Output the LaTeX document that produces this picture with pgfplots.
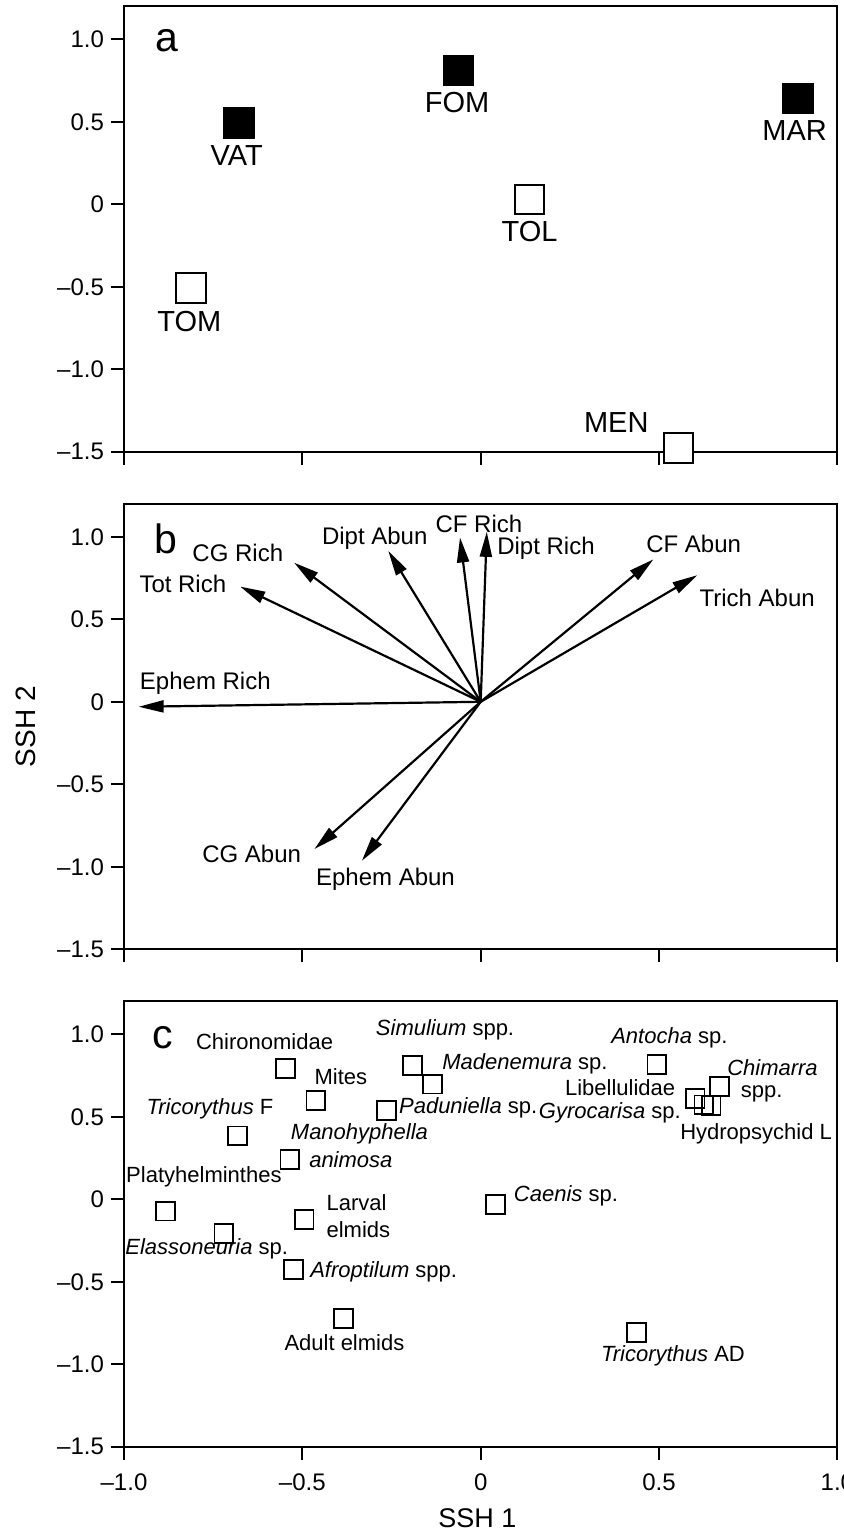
\documentclass[border=0pt]{standalone}
\usepackage{fontspec}
\setmainfont{Liberation Sans}
\usepackage{pgfplots}
\pgfplotsset{compat=1.18}
\usetikzlibrary{arrows.meta}

\pgfplotsset{
  panel/.style={
    x=178.35pt, y=82.5pt,
    xmin=-1, xmax=1, ymin=-1.5, ymax=1.2,
    anchor=south west,
    clip=false,
    axis line style={line width=1pt},
    tick style={line width=1pt, black},
    major tick length=6.5pt,
    tick align=outside,
    tick pos=left,
    xtick={-1,-0.5,0,0.5,1},
    ytick={-1.5,-1,-0.5,0,0.5,1},
    yticklabels={\textendash1.5,\textendash1.0,\textendash0.5,0,0.5,1.0},
    tick label style={font=\fontsize{12}{14}\selectfont},
    xticklabel style={yshift=-3.5pt},
  },
}
\tikzset{
  lbla/.style={font=\fontsize{14.5}{16}\selectfont, inner sep=0pt},
  lblb/.style={font=\fontsize{12}{14}\selectfont, inner sep=0pt},
  lblc/.style={font=\fontsize{11}{13}\selectfont, inner sep=0pt},
  letter/.style={font=\fontsize{20.5}{22}\selectfont, inner sep=0pt},
  arr/.style={line width=1.1pt, -{Triangle[length=12.5pt,width=6pt]}},
}

\begin{document}
\begin{tikzpicture}
\useasboundingbox (-62pt,-540.1pt) rectangle (359.5pt,225.9pt);

% ---------------- panel a
\begin{axis}[panel, at={(0pt,0pt)}, xticklabels={{},{},{},{},{}}]
\addplot[only marks, mark=square*, mark size=7.4pt,
  mark options={fill=black, draw=black, line width=1pt}]
  coordinates {(-0.677,0.493) (-0.062,0.81) (0.889,0.641)};
\addplot[only marks, mark=square*, mark size=7.4pt,
  mark options={fill=white, draw=black, line width=1pt}]
  coordinates {(0.137,0.03) (-0.812,-0.508) (0.554,-1.476)};
\node[letter] at (axis cs:-0.879,0.99) {a};
\node[lbla] at (axis cs:-0.684,0.297) {VAT};
\node[lbla] at (axis cs:-0.066,0.614) {FOM};
\node[lbla] at (axis cs:0.88,0.446) {MAR};
\node[lbla] at (axis cs:0.137,-0.165) {TOL};
\node[lbla] at (axis cs:-0.817,-0.709) {TOM};
\node[lbla] at (axis cs:0.38,-1.32) {MEN};
\end{axis}

% ---------------- panel b
\begin{axis}[panel, at={(0pt,-248.75pt)}, xticklabels={{},{},{},{},{}},
  ylabel={SSH 2},
  ylabel style={at={(axis description cs:-0.1374,0.5)}, anchor=center,
    font=\fontsize{14}{16}\selectfont}]
\addplot[arr] coordinates {(0,0) (-0.959,-0.03)};
\addplot[arr] coordinates {(0,0) (-0.674,0.698)};
\addplot[arr] coordinates {(0,0) (-0.523,0.843)};
\addplot[arr] coordinates {(0,0) (-0.259,0.914)};
\addplot[arr] coordinates {(0,0) (-0.058,0.996)};
\addplot[arr] coordinates {(0,0) (0.017,1.03)};
\addplot[arr] coordinates {(0,0) (0.484,0.863)};
\addplot[arr] coordinates {(0,0) (0.607,0.767)};
\addplot[arr] coordinates {(0,0) (-0.466,-0.892)};
\addplot[arr] coordinates {(0,0) (-0.333,-0.963)};
\node[letter] at (axis cs:-0.883,0.99) {b};
\node[lblb] at (axis cs:-0.005,1.081) {CF Rich};
\node[lblb] at (axis cs:0.183,0.93) {Dipt Rich};
\node[lblb] at (axis cs:-0.297,0.99) {Dipt Abun};
\node[lblb] at (axis cs:-0.681,0.903) {CG Rich};
\node[lblb] at (axis cs:-0.835,0.714) {Tot Rich};
\node[lblb] at (axis cs:0.597,0.956) {CF Abun};
\node[lblb] at (axis cs:0.775,0.628) {Trich Abun};
\node[lblb] at (axis cs:-0.772,0.11) {Ephem Rich};
\node[lblb] at (axis cs:-0.642,-0.922) {CG Abun};
\node[lblb] at (axis cs:-0.267,-1.077) {Ephem Abun};
\end{axis}

% ---------------- panel c
\begin{axis}[panel, at={(0pt,-497.5pt)},
  xticklabels={\textendash1.0,\textendash0.5,0,0.5,1.0},
  xlabel={SSH 1},
  xlabel style={at={(axis description cs:0.4955,-0.16)}, anchor=center,
    font=\fontsize{13.5}{15}\selectfont}]
\addplot[only marks, mark=square, mark size=4.7pt,
  mark options={draw=black, line width=0.9pt}]
  coordinates {
  (-0.548,0.792) (-0.462,0.598) (-0.681,0.384) (-0.535,0.241)
  (-0.884,-0.071) (-0.72,-0.208) (-0.495,-0.122) (-0.524,-0.425)
  (-0.385,-0.723) (-0.192,0.812) (-0.135,0.698) (-0.264,0.537)
  (0.041,-0.031) (0.494,0.816) (0.601,0.612) (0.626,0.572)
  (0.646,0.569) (0.67,0.682) (0.437,-0.807)};
\node[letter] at (axis cs:-0.89,0.98) {c};
\node[lblc] at (axis cs:-0.606,0.955) {Chironomidae};
\node[lblc] at (axis cs:-0.392,0.741) {Mites};
\node[lblc] at (axis cs:-0.759,0.551) {\textit{Tricorythus} F};
\node[lblc] at (axis cs:-0.34,0.40) {\textit{Manohyphella}};
\node[lblc] at (axis cs:-0.364,0.241) {\textit{animosa}};
\node[lblc] at (axis cs:-0.776,0.139) {Platyhelminthes};
\node[lblc] at (axis cs:-0.348,-0.02) {Larval};
\node[lblc] at (axis cs:-0.343,-0.181) {elmids};
\node[lblc] at (axis cs:-0.768,-0.30) {\textit{Elassoneuria} sp.};
\node[lblc] at (axis cs:-0.272,-0.441) {\textit{Afroptilum} spp.};
\node[lblc] at (axis cs:-0.382,-0.866) {Adult elmids};
\node[lblc] at (axis cs:-0.10,1.026) {\textit{Simulium} spp.};
\node[lblc] at (axis cs:0.124,0.822) {\textit{Madenemura} sp.};
\node[lblc] at (axis cs:-0.035,0.555) {\textit{Paduniella} sp.};
\node[lblc] at (axis cs:0.239,0.023) {\textit{Caenis} sp.};
\node[lblc] at (axis cs:0.529,0.979) {\textit{Antocha} sp.};
\node[lblc] at (axis cs:0.391,0.679) {Libellulidae};
\node[lblc] at (axis cs:0.362,0.523) {\textit{Gyrocarisa} sp.};
\node[lblc] at (axis cs:0.818,0.80) {\textit{Chimarra}};
\node[lblc] at (axis cs:0.788,0.639) {spp.};
\node[lblc] at (axis cs:0.772,0.398) {Hydropsychid L};
\node[lblc] at (axis cs:0.539,-0.948) {\textit{Tricorythus} AD};
\end{axis}
\end{tikzpicture}
\end{document}
